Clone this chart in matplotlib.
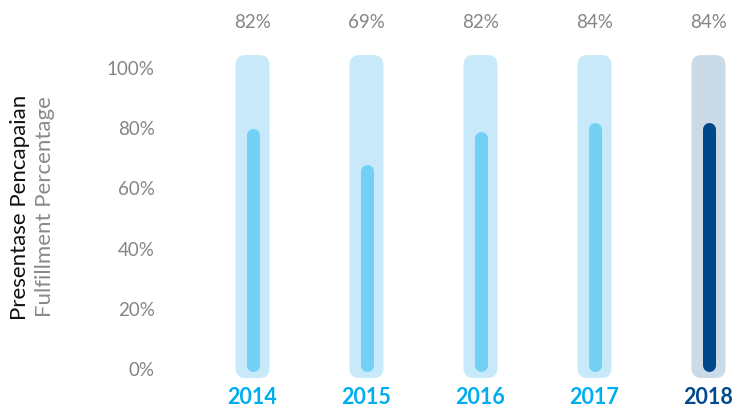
import matplotlib.pyplot as plt
import numpy as np
from matplotlib.patches import FancyBboxPatch

years = ['2014', '2015', '2016', '2017', '2018']
pct_labels = ['82%', '69%', '82%', '84%', '84%']
# height of the filled bar as drawn in the picture (in %)
bar_levels = [80, 68, 79, 82, 82]
yticks = [0, 20, 40, 60, 80, 100]

bg_colors = ['#c8e9f9'] * 4 + ['#cbdae7']
fg_colors = ['#72d0f5'] * 4 + ['#00468b']
year_colors = ['#00aeef'] * 4 + ['#004a8c']

W, H, DPI = 733, 408, 100
fig = plt.figure(figsize=(W / DPI, H / DPI), dpi=DPI)

# layout in pixels
left_px = 170
x0_px, step_px = 252.5, 114.0
y0_px, px_per_pct = 369.0, 3.01

ax = fig.add_axes([left_px / W, 0, 1 - left_px / W, 1])
ax.set_xlim((left_px - x0_px) / step_px, (W - x0_px) / step_px)
ax.set_ylim((y0_px - H) / px_per_pct, y0_px / px_per_pct)

xunit = 1 / step_px   # data units per pixel in x
yunit = 1 / px_per_pct

x = np.arange(len(years))
for i in x:
    # background rounded bar
    bw = 34 * xunit
    ybot, ytop = -3.0, 104.3
    r = 10 * xunit
    patch = FancyBboxPatch((i - bw / 2, ybot), bw, ytop - ybot,
                           boxstyle=f"round,pad=0,rounding_size={r}",
                           mutation_aspect=yunit / xunit,
                           fc=bg_colors[i], ec='none', zorder=1)
    ax.add_patch(patch)
    # filled level
    cap = 6.5 * yunit
    ax.plot([i, i], [-0.7 + cap, bar_levels[i] - cap], color=fg_colors[i],
            lw=13 * 72 / DPI, solid_capstyle='round', zorder=2)
    ax.text(i, (y0_px - 23) / px_per_pct, pct_labels[i], ha='center', va='center',
            fontsize=13.5, color='#858585', family='Lato')
    ax.text(i, (y0_px - 398) / px_per_pct, years[i], ha='center', va='center',
            fontsize=15.5, fontweight='bold', color=year_colors[i], family='Lato')

ax.set_yticks(yticks)
ax.set_yticklabels([f'{t}%' for t in yticks], fontsize=13.5, color='#858585', family='Lato')
ax.tick_params(axis='y', length=0, pad=11)
ax.set_xticks([])
for s in ax.spines.values():
    s.set_visible(False)

fig.text(20 / W, 1 - 207 / H, 'Presentase Pencapaian', rotation=90, ha='center', va='center',
         fontsize=16, color='#111111', family='Lato')
fig.text(45 / W, 1 - 207 / H, 'Fulfillment Percentage', rotation=90, ha='center', va='center',
         fontsize=16, color='#8a8a8a', family='Lato')

fig.savefig('out.png', dpi=DPI)
